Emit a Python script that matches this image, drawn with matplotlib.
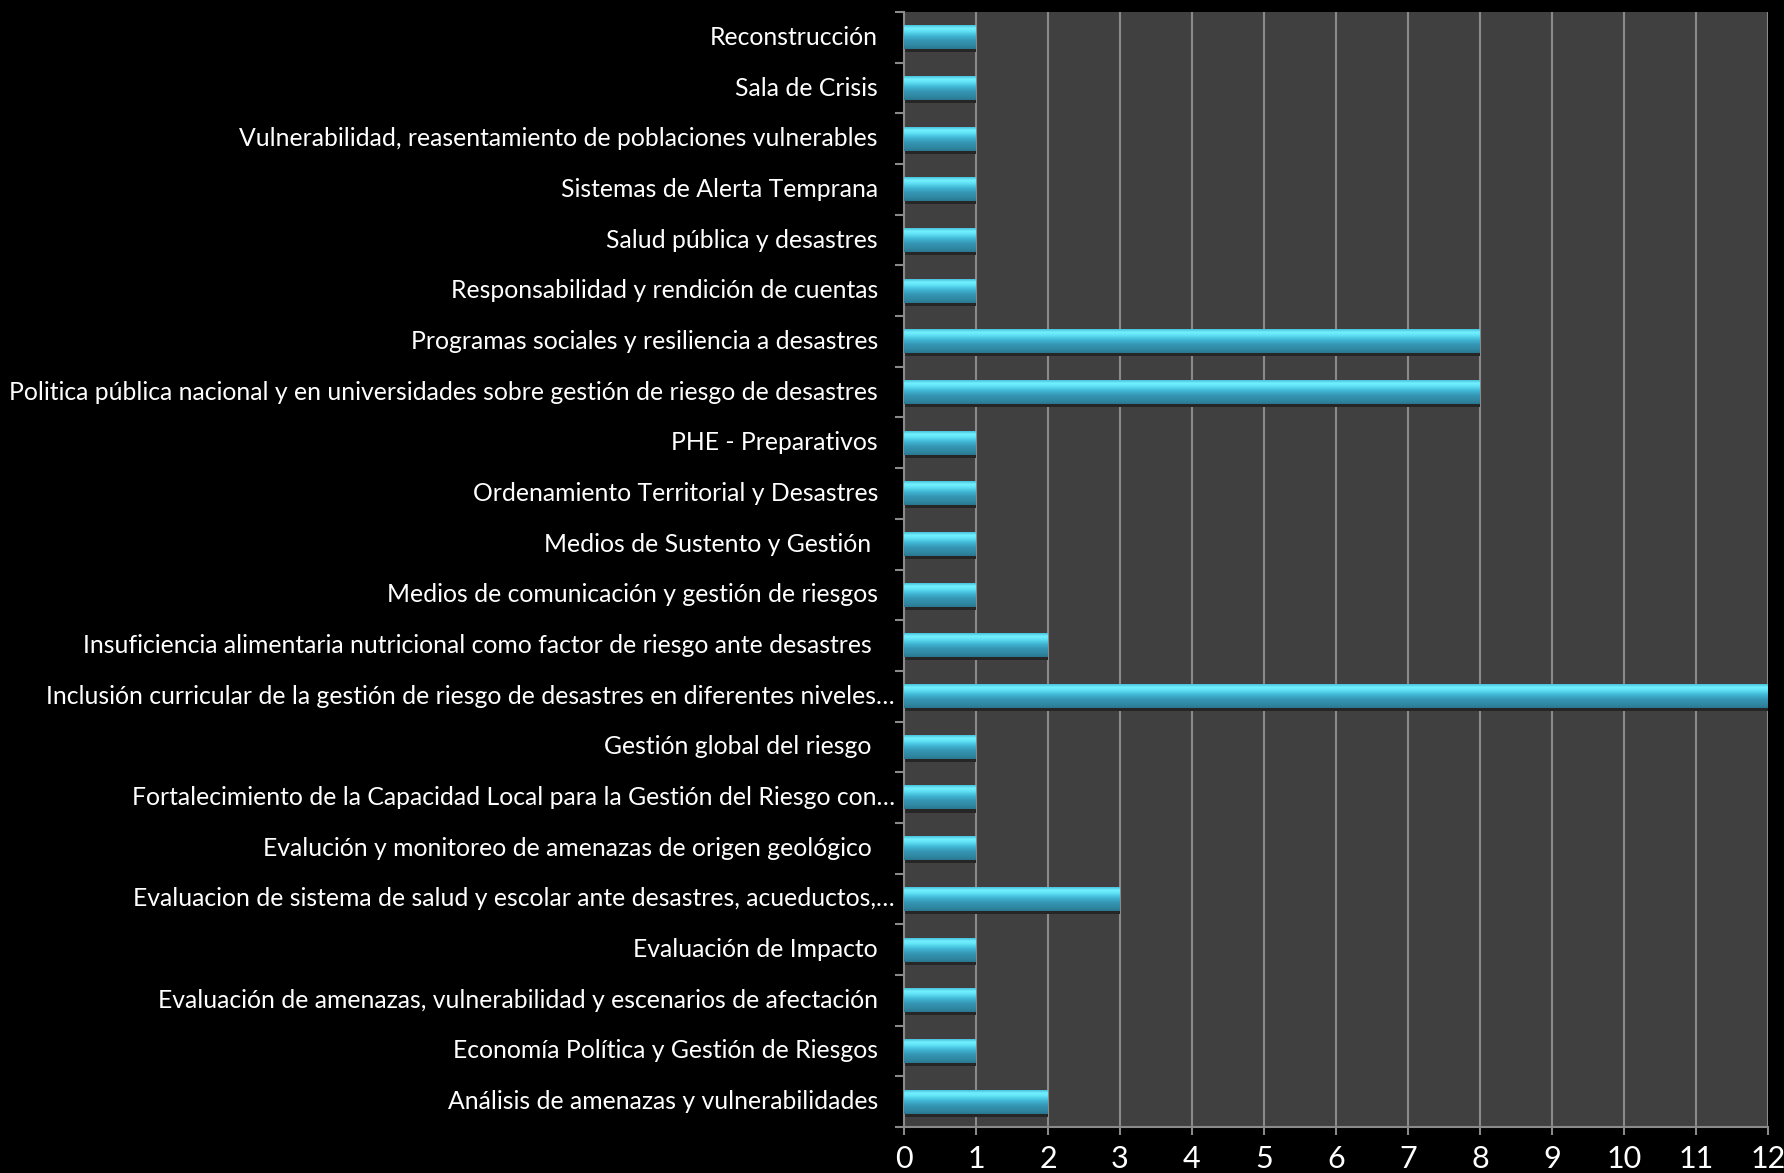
import numpy as np
import matplotlib.pyplot as plt
from matplotlib.colors import LinearSegmentedColormap
from matplotlib.patches import Rectangle

# categories listed bottom to top
temas = [
    'Análisis de amenazas y vulnerabilidades',
    'Economía Política y Gestión de Riesgos',
    'Evaluación de amenazas, vulnerabilidad y escenarios de afectación',
    'Evaluación de Impacto',
    'Evaluacion de sistema de salud y escolar ante desastres, acueductos,…',
    'Evalución y monitoreo de amenazas de origen geológico ',
    'Fortalecimiento de la Capacidad Local para la Gestión del Riesgo con…',
    'Gestión global del riesgo ',
    'Inclusión curricular de la gestión de riesgo de desastres en diferentes niveles…',
    'Insuficiencia alimentaria nutricional como factor de riesgo ante desastres ',
    'Medios de comunicación y gestión de riesgos',
    'Medios de Sustento y Gestión ',
    'Ordenamiento Territorial y Desastres',
    'PHE - Preparativos',
    'Politica pública nacional y en universidades sobre gestión de riesgo de desastres',
    'Programas sociales y resiliencia a desastres',
    'Responsabilidad y rendición de cuentas',
    'Salud pública y desastres',
    'Sistemas de Alerta Temprana',
    'Vulnerabilidad, reasentamiento de poblaciones vulnerables',
    'Sala de Crisis',
    'Reconstrucción',
]
cantidad = [2, 1, 1, 1, 3, 1, 1, 1, 12, 2, 1, 1, 1, 1, 8, 8, 1, 1, 1, 1, 1, 1]
xticks = list(range(0, 13))

plt.rcParams['font.family'] = ['Lato', 'DejaVu Sans']

fig = plt.figure(figsize=(17.84, 11.73), dpi=100, facecolor='black')
ax = fig.add_axes([0.5067, 0.0392, 0.991 - 0.5067, 0.98977 - 0.0392])
ax.set_facecolor('#404040')

n = len(temas)
gray = '#8a8a8a'

ax.set_xticks(xticks)
ax.grid(axis='x', color=gray, linewidth=1.5)
ax.set_axisbelow(True)

# bar gradient (bottom -> top)
grad = LinearSegmentedColormap.from_list('bar', [
    (0.0, '#2a7890'), (0.12, '#2f85a0'), (0.35, '#3596b4'),
    (0.55, '#3fb6d4'), (0.75, '#5fe2f6'), (0.88, '#72f0ff'), (1.0, '#4ac0dc')])
img = np.linspace(0, 1, 64).reshape(-1, 1)
h = 0.47
for i, v in enumerate(cantidad):
    # shadow under the bar
    ax.add_patch(Rectangle((0, i - h / 2 - 0.06), v, 0.06, color='#262626', zorder=2, lw=0))
    ax.imshow(img, cmap=grad, aspect='auto', origin='lower',
              extent=(0, v, i - h / 2, i + h / 2), zorder=3, interpolation='bilinear')
ax.set_xlim(0, 12)
ax.set_ylim(-0.5, n - 0.5)

# y ticks at category boundaries
ax.set_yticks(np.arange(-0.5, n, 1))
ax.set_yticklabels([])
ax.tick_params(axis='y', length=6.5, width=1.5, color=gray, left=True)
ax.set_yticks(np.arange(n), minor=True)
ax.tick_params(axis='y', which='minor', direction='in', length=5, width=1.2, color=gray)
ax.tick_params(axis='x', length=6, width=1.5, color=gray, labelcolor='white',
               labelsize=22, pad=7)

for i, t in enumerate(temas):
    off = -9 if t.endswith('…') else -26
    ax.annotate(t, xy=(0, i), xycoords=('axes fraction', 'data'),
                xytext=(off, 0), textcoords='offset pixels',
                ha='right', va='center', color='white', fontsize=17.8)

for s in ['top', 'right']:
    ax.spines[s].set_visible(False)
for s in ['left', 'bottom']:
    ax.spines[s].set_color(gray)
    ax.spines[s].set_linewidth(1.5)

fig.savefig('out.png', dpi=100, facecolor='black')
